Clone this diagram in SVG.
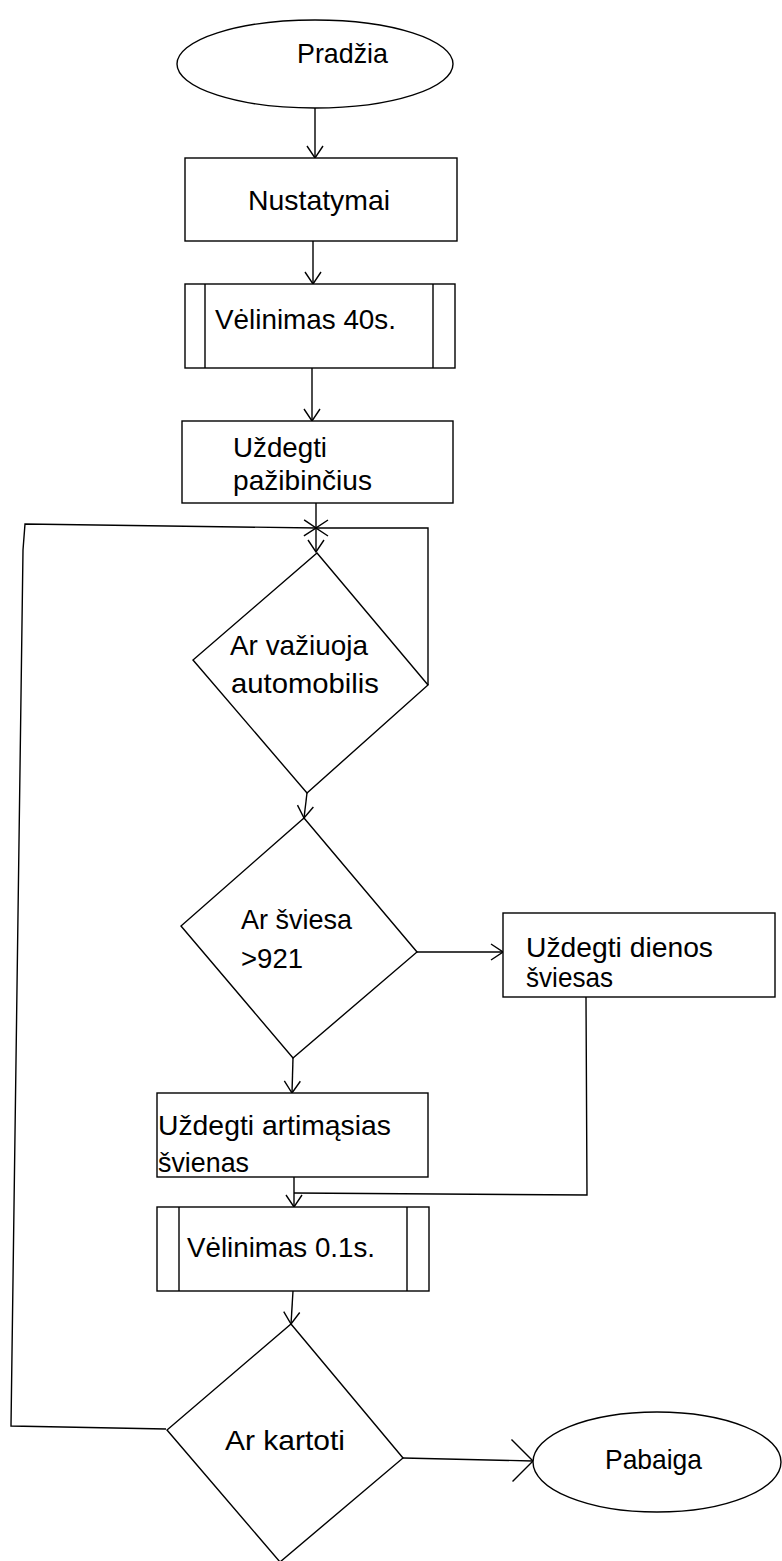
<svg xmlns="http://www.w3.org/2000/svg" width="782" height="1561" viewBox="0 0 782 1561">
<style>
.s{fill:#fff;stroke:#000;stroke-width:1.4}
.c{fill:none;stroke:#000;stroke-width:1.4}
.t{font-family:"Liberation Sans",Arial,sans-serif;font-size:28.5px;fill:#000}
</style>
<defs>
<marker id="arr" markerUnits="userSpaceOnUse" markerWidth="14" markerHeight="18" viewBox="0 0 14 18" refX="13" refY="9" orient="auto">
<path d="M1,1 L13,9 L1,17" fill="none" stroke="#000" stroke-width="1.4"/>
</marker>
<marker id="big" markerUnits="userSpaceOnUse" markerWidth="26" markerHeight="46" viewBox="0 0 26 46" refX="24" refY="23" orient="auto">
<path d="M2,2 L24,23 L4,44" fill="none" stroke="#000" stroke-width="1.4"/>
</marker>
</defs>
<rect width="782" height="1561" fill="#fff"/>
<g id="connectors">
<path class="c" d="M315,108 L315,158" marker-end="url(#arr)"/>
<path class="c" d="M313,240 L313,284" marker-end="url(#arr)"/>
<path class="c" d="M312,368 L312,421" marker-end="url(#arr)"/>
<path class="c" d="M316,503 L316,552" marker-end="url(#arr)"/>
<path class="c" d="M428,685 L428,528 L316,528" marker-end="url(#arr)"/>
<path class="c" d="M166,1429 L11,1426 L23,550 L25,524 L316,528" marker-end="url(#arr)"/>
<path class="c" d="M307,793 L304,818" marker-end="url(#arr)"/>
<path class="c" d="M417,952 L503,952" marker-end="url(#arr)"/>
<path class="c" d="M293,1058 L292,1093" marker-end="url(#arr)"/>
<path class="c" d="M586,997 L587,1195 L294,1193"/>
<path class="c" d="M294,1177 L294,1207" marker-end="url(#arr)"/>
<path class="c" d="M293,1291 L291,1324" marker-end="url(#arr)"/>
<path class="c" d="M403,1458 L533,1461" marker-end="url(#big)"/>
</g>
<g id="start">
<ellipse class="s" cx="315" cy="64" rx="138" ry="44"/>
<text class="t" x="297" y="63" textLength="91" lengthAdjust="spacingAndGlyphs">Pradžia</text>
</g>
<g id="settings">
<rect class="s" x="185" y="158" width="272" height="83"/>
<text class="t" x="248" y="210" textLength="142" lengthAdjust="spacingAndGlyphs">Nustatymai</text>
</g>
<g id="delay40">
<rect class="s" x="185" y="284" width="270" height="84"/>
<path class="c" d="M205,284 V368 M433,284 V368"/>
<text class="t" x="215" y="329" textLength="181" lengthAdjust="spacingAndGlyphs">Vėlinimas 40s.</text>
</g>
<g id="lamps">
<rect class="s" x="182" y="421" width="271" height="82"/>
<text class="t" x="233" y="457" textLength="94" lengthAdjust="spacingAndGlyphs">Uždegti</text>
<text class="t" x="233" y="490" textLength="139" lengthAdjust="spacingAndGlyphs">pažibinčius</text>
</g>
<g id="car">
<path class="s" d="M317,553 L428,685 L307,793 L193,660 Z"/>
<text class="t" x="230" y="655" textLength="138" lengthAdjust="spacingAndGlyphs">Ar važiuoja</text>
<text class="t" x="231" y="693" textLength="148" lengthAdjust="spacingAndGlyphs">automobilis</text>
</g>
<g id="light">
<path class="s" d="M304,818 L417,952 L293,1058 L181,926 Z"/>
<text class="t" x="241" y="929" textLength="111" lengthAdjust="spacingAndGlyphs">Ar šviesa</text>
<text class="t" x="241" y="968" textLength="62" lengthAdjust="spacingAndGlyphs">&gt;921</text>
</g>
<g id="daylights">
<rect class="s" x="503" y="913" width="272" height="84"/>
<text class="t" x="526" y="957" textLength="187" lengthAdjust="spacingAndGlyphs">Uždegti dienos</text>
<text class="t" x="526" y="987" textLength="87" lengthAdjust="spacingAndGlyphs">šviesas</text>
</g>
<g id="lowbeam">
<rect class="s" x="157" y="1093" width="271" height="84"/>
<text class="t" x="158" y="1135" textLength="233" lengthAdjust="spacingAndGlyphs">Uždegti artimąsias</text>
<text class="t" x="158" y="1172" textLength="91" lengthAdjust="spacingAndGlyphs">švienas</text>
</g>
<g id="delay01">
<rect class="s" x="157" y="1207" width="272" height="84"/>
<path class="c" d="M179,1207 V1291 M407,1207 V1291"/>
<text class="t" x="187" y="1257" textLength="188" lengthAdjust="spacingAndGlyphs">Vėlinimas 0.1s.</text>
</g>
<g id="repeat">
<path class="s" d="M291,1324 L403,1458 L280,1562 L167,1430 Z"/>
<text class="t" x="225" y="1450" textLength="120" lengthAdjust="spacingAndGlyphs">Ar kartoti</text>
</g>
<g id="end">
<ellipse class="s" cx="657" cy="1462" rx="124" ry="50"/>
<text class="t" x="605" y="1469" textLength="97" lengthAdjust="spacingAndGlyphs">Pabaiga</text>
</g>
</svg>
